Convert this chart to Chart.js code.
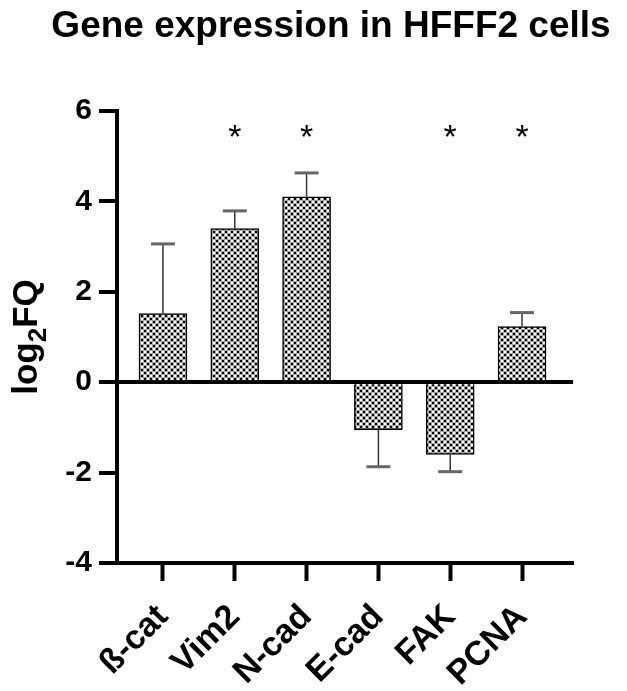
<!DOCTYPE html>
<html>
<head>
<meta charset="utf-8">
<script src="https://cdn.jsdelivr.net/npm/chart.js@4.4.0/dist/chart.umd.min.js"></script>
<style>
  html, body { margin: 0; padding: 0; background: #fff; }
  #wrap { width: 627px; height: 691px; position: relative; }
</style>
</head>
<body>
<div id="wrap"><canvas id="geneChart"></canvas></div>
<script>
const genes = ['ß-cat', 'Vim2', 'N-cad', 'E-cad', 'FAK', 'PCNA'];
const log2FQ = [1.52, 3.40, 4.10, -1.05, -1.60, 1.23];
const errEnd = [3.06, 3.79, 4.63, -1.87, -1.98, 1.54];
const stars = ['', '*', '*', '', '*', '*'];
const starLevel = 5.62;
const yTicks = [-4, -2, 0, 2, 4, 6];

const FONT = '"Liberation Sans", Arial, Helvetica, sans-serif';

// checkered fill like the Prism pattern
function checkerPattern() {
  const c = document.createElement('canvas');
  c.width = 6; c.height = 6;
  const g = c.getContext('2d');
  g.fillStyle = '#aaa';
  g.fillRect(0, 0, 6, 6);
  g.fillStyle = '#000';
  g.fillRect(0, 0, 2, 2);
  g.fillRect(3, 3, 2, 2);
  g.fillStyle = '#fff';
  g.fillRect(3, 0, 2, 2);
  g.fillRect(0, 3, 2, 2);
  return g.createPattern(c, 'repeat');
}

const extras = {
  id: 'extras',
  afterDatasetsDraw(chart) {
    const ctx = chart.ctx;
    const y = chart.scales.y;
    const meta = chart.getDatasetMeta(0);
    ctx.save();
    meta.data.forEach((bar, i) => {
      const yEnd = y.getPixelForValue(errEnd[i]);
      ctx.strokeStyle = '#333';
      ctx.lineWidth = 1.5;
      ctx.beginPath();
      ctx.moveTo(bar.x, bar.y);
      ctx.lineTo(bar.x, yEnd);
      ctx.stroke();
      ctx.strokeStyle = '#666';
      ctx.lineWidth = 3;
      ctx.beginPath();
      ctx.moveTo(bar.x - 12, yEnd);
      ctx.lineTo(bar.x + 12, yEnd);
      ctx.stroke();
      if (stars[i]) {
        ctx.fillStyle = '#000';
        ctx.font = '34px ' + FONT;
        ctx.textAlign = 'center';
        ctx.textBaseline = 'alphabetic';
        ctx.fillText(stars[i], bar.x, y.getPixelForValue(starLevel) + 20);
      }
    });
    ctx.restore();
  },
  afterDraw(chart) {
    const ctx = chart.ctx;
    const area = chart.chartArea;
    ctx.save();
    // title
    ctx.fillStyle = '#000';
    ctx.font = 'bold 37px ' + FONT;
    ctx.textAlign = 'center';
    ctx.textBaseline = 'alphabetic';
    ctx.fillText('Gene expression in HFFF2 cells', 331, 37);
    // y axis title with subscript
    ctx.translate(37, (area.top + area.bottom) / 2);
    ctx.rotate(-Math.PI / 2);
    const big = 'bold 35px ' + FONT, small = 'bold 26px ' + FONT;
    ctx.font = big;
    const w1 = ctx.measureText('log').width, w3 = ctx.measureText('FQ').width;
    ctx.font = small;
    const w2 = ctx.measureText('2').width;
    let x = -(w1 + w2 + w3) / 2;
    ctx.textAlign = 'left';
    ctx.font = big;
    ctx.fillText('log', x, 0); x += w1;
    ctx.font = small;
    ctx.fillText('2', x, 9); x += w2;
    ctx.font = big;
    ctx.fillText('FQ', x, 0);
    ctx.restore();
  }
};

new Chart(document.getElementById('geneChart'), {
  type: 'bar',
  data: {
    datasets: [{
      data: genes.map((g, i) => ({ x: i, y: log2FQ[i] })),
      backgroundColor: checkerPattern(),
      borderColor: '#000',
      borderWidth: 1.5,
      barThickness: 48
    }]
  },
  options: {
    responsive: true,
    maintainAspectRatio: false,
    animation: false,
    layout: { padding: { top: 111, right: 54, bottom: 0, left: 0 } },
    plugins: { legend: { display: false }, tooltip: { enabled: false } },
    scales: {
      x: {
        type: 'linear',
        min: -0.64, max: 5.71,
        offset: false,
        afterFit: s => { s.height = 128; },
        border: { color: '#000', width: 4 },
        grid: { offset: false, drawOnChartArea: false, tickLength: 18, tickColor: '#000', tickWidth: 4 },
        ticks: {
          stepSize: 1, includeBounds: false, autoSkip: false,
          maxRotation: 45, minRotation: 45, padding: 16,
          color: '#000', font: { family: FONT, size: 34, weight: 'bold' },
          callback: v => genes[v] !== undefined ? genes[v] : ''
        }
      },
      y: {
        min: -4, max: 6,
        afterFit: s => { s.width = 117; },
        afterBuildTicks: s => { s.ticks = yTicks.map(v => ({ value: v })); },
        border: { color: '#000', width: 4 },
        grid: {
          tickLength: 18, tickColor: '#000', tickWidth: 4, lineWidth: 4,
          color: c => (c.tick && c.tick.value === 0) ? '#000' : 'rgba(0,0,0,0)'
        },
        ticks: {
          padding: 7, color: '#000',
          font: { family: FONT, size: 30, weight: 'bold' }
        }
      }
    }
  },
  plugins: [extras]
});
</script>
</body>
</html>
